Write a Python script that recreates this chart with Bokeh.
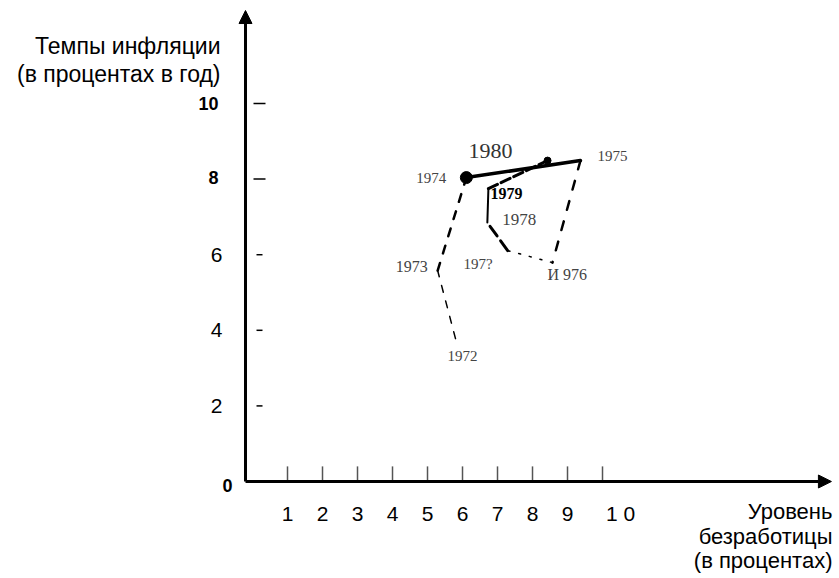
from bokeh.plotting import figure
from bokeh.models import Arrow, NormalHead, ColumnDataSource
from bokeh.core.properties import value
from bokeh.embed import file_html
from bokeh.resources import INLINE

# ---- data ----
years = [1972, 1973, 1974, 1975, 1976, 1977, 1978, 1979, 1980]
unemployment = [5.80, 5.29, 6.11, 9.37, 8.57, 7.29, 6.71, 6.74, 8.43]
inflation = [3.78, 5.58, 8.04, 8.49, 5.79, 6.11, 6.85, 7.75, 8.49]
year_labels = ["1972", "1973", "1974", "1975", "И 976", "197?", "1978", "1979", "1980"]
x_ticks = [1, 2, 3, 4, 5, 6, 7, 8, 9, 10]
x_tick_labels = ["1", "2", "3", "4", "5", "6", "7", "8", "9", "1 0"]
y_ticks = [0, 2, 4, 6, 8, 10]
y_tick_labels = ["0", "2", "4", "6", "8", "10"]
y_title = ["Темпы инфляции", "(в процентах в год)"]
x_title = ["Уровень", "безработицы", "(в процентах)"]

# ---- styling ----
FONT = value("Liberation Sans")
X0, X1 = -7.2, 16.771
Y0, Y1 = -2.566, 12.725
AX_X = -0.2        # where the vertical axis is drawn
AX_TOP = 12.46
AX_RIGHT = 16.54

p = figure(width=839, height=578, x_range=(X0, X1), y_range=(Y0, Y1),
           output_backend="svg", toolbar_location=None, min_border=0)
p.axis.visible = False
p.grid.visible = False
p.outline_line_color = None
p.background_fill_color = "white"
p.border_fill_color = "white"

# axes with arrowheads
p.add_layout(Arrow(end=NormalHead(size=13, fill_color="black", line_color="black"),
                   x_start=AX_X, y_start=0, x_end=AX_X, y_end=AX_TOP,
                   line_width=3, line_color="black"))
p.add_layout(Arrow(end=NormalHead(size=13, fill_color="black", line_color="black"),
                   x_start=AX_X, y_start=0, x_end=AX_RIGHT, y_end=0,
                   line_width=3, line_color="black"))

# tick marks
p.segment(x0=x_ticks, y0=[0] * len(x_ticks), x1=x_ticks, y1=[0.4] * len(x_ticks),
          line_color="#555555", line_width=1.5)
ytick_size = [6, 6, 6, 12, 12]
p.scatter(x=[0.2] * (len(y_ticks) - 1), y=y_ticks[1:], marker="dash", size=ytick_size,
          line_color="black", line_width=1.5)

# tick labels
xl_dx = [0, 0, 0, 0, 0, 0, 0, 0, 0, 18]
p.text(x=x_ticks, y=[0] * len(x_ticks), text=x_tick_labels, x_offset=xl_dx, y_offset=32,
       text_align="center", text_baseline="middle", text_font=FONT,
       text_font_size="21px", text_color="black")
yl_dx = [-13, -23, -23, -23, -27, -27]
yl_dy = [4, 0, 0, 0, -2, 0]
yl_size = ["18px", "21px", "21px", "21px", "18px", "18px"]
yl_style = ["bold", "normal", "normal", "normal", "bold", "bold"]
ysrc = ColumnDataSource(dict(x=[AX_X] * len(y_ticks), y=y_ticks, t=y_tick_labels,
                             dx=yl_dx, dy=yl_dy, fs=yl_size, st=yl_style))
p.text(x="x", y="y", text="t", x_offset="dx", y_offset="dy", text_align="right",
       text_baseline="middle", text_font=FONT, text_font_size="fs",
       text_font_style="st", text_color="black", source=ysrc)

# trajectory segments, each with its own stroke
seg_styles = [
    dict(line_width=1.5, line_dash="7 9"),
    dict(line_width=2.5, line_dash="8 10"),
    dict(line_width=3.5, line_dash="solid"),
    dict(line_width=2.5, line_dash="9 12"),
    dict(line_width=1.5, line_dash="2 9"),
    dict(line_width=3.0, line_dash="12 6"),
    dict(line_width=2.0, line_dash="solid"),
    dict(line_width=3.0, line_dash="10 4"),
]
for i, st in enumerate(seg_styles):
    p.line(x=unemployment[i:i + 2], y=inflation[i:i + 2], line_color="black",
           line_cap="round", **st)

p.scatter(x=[unemployment[2]], y=[inflation[2]], size=12, color="black")
p.scatter(x=[unemployment[8]], y=[inflation[8]], size=7, color="black")

# year labels
lab_dx = [7, -10, -20, 17, -5, -15, 15, 2, -35]
lab_dy = [17, -4, 0, -5, 12, 13, -3, 5, -10]
lab_align = ["center", "right", "right", "left", "left", "right", "left", "left", "right"]
lab_size = ["15px", "16px", "15px", "15px", "16px", "15px", "17px", "16px", "22px"]
lab_style = ["normal"] * 7 + ["bold", "normal"]
lab_color = ["#444444"] * 7 + ["black", "#333333"]
src = ColumnDataSource(dict(x=unemployment, y=inflation, t=year_labels, dx=lab_dx, dy=lab_dy,
                            al=lab_align, fs=lab_size, st=lab_style, c=lab_color))
p.text(x="x", y="y", text="t", x_offset="dx", y_offset="dy", text_align="al",
       text_baseline="middle", text_font_size="fs", text_font_style="st",
       text_color="c", text_font=value("Liberation Serif"), source=src)

# axis titles
p.text(x=[-0.914] * 2, y=[11.53, 10.77], text=y_title, text_align="right",
       text_baseline="middle", text_font=FONT, text_font_size="23px", text_color="black")
p.text(x=[16.57] * 3, y=[-0.80, -1.46, -2.10], text=x_title, text_align="right",
       text_baseline="middle", text_font=FONT, text_font_size="22px", text_color="black")

open("out.html", "w").write(file_html(p, INLINE))
